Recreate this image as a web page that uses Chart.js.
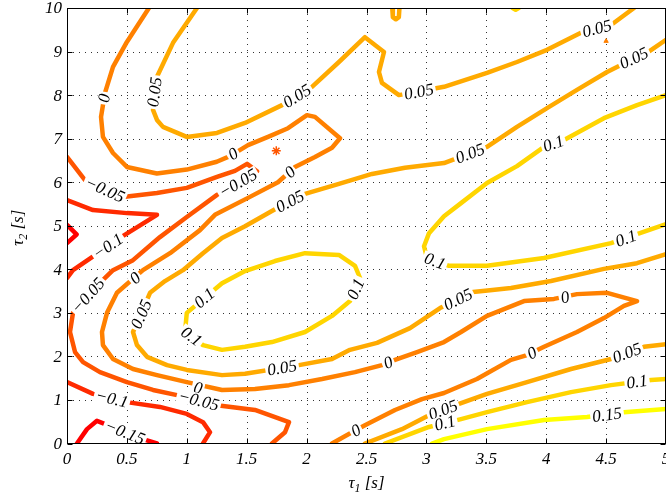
<!DOCTYPE html>
<html><head><meta charset="utf-8">
<script src="https://cdn.jsdelivr.net/npm/chart.js@4"></script>
<style>html,body{margin:0;padding:0;background:#fff;overflow:hidden}canvas{display:block}</style>
</head><body>
<canvas id="c" width="666" height="498"></canvas>
<script>
// ---------- data ----------
const xTicks = [0, 0.5, 1, 1.5, 2, 2.5, 3, 3.5, 4, 4.5, 5];
const yTicks = [0, 1, 2, 3, 4, 5, 6, 7, 8, 9, 10];
const levels = [-0.15, -0.1, -0.05, 0, 0.05, 0.1, 0.15];

// contour paths, [tau1, tau2]
const zeroMain = [[0.684,10],[0.50,9.22],[0.384,8.65],[0.317,8.05],[0.284,7.50],[0.30,7.04],[0.384,6.67],[0.50,6.35],[0.75,6.20],[1.0,6.29],[1.25,6.47],[1.36,6.60],[1.511,6.85],[1.678,7.04],[1.845,7.24],[2.003,7.54],[2.07,7.50],[2.279,7.01],[2.212,6.79],[2.07,6.58],[1.903,6.35],[1.761,6.00],[1.511,5.64],[1.235,5.25],[1.11,4.90],[0.86,4.37],[0.634,3.98],[0.417,3.46],[0.334,3.00],[0.292,2.56],[0.30,2.26],[0.384,1.94],[0.551,1.71],[0.751,1.57],[1.0,1.41],[1.294,1.23],[1.569,1.25],[1.853,1.34],[2.129,1.48],[2.404,1.64],[2.629,1.80],[2.738,1.92],[2.922,2.10],[3.147,2.33],[3.289,2.56],[3.506,2.93],[3.815,3.27],[4.065,3.32],[4.257,3.43],[4.508,3.46],[4.758,3.27],[4.649,3.16],[4.482,2.88],[4.257,2.56],[3.982,2.22],[3.84,2.03],[3.706,1.92],[3.422,1.48],[3.147,1.16],[2.963,1.02],[2.738,0.77],[2.487,0.42],[2.379,0.26],[2.212,0]];
const minus05Main = [[0,6.58],[0.15,6.05],[0.467,5.66],[0.751,5.75],[1.0,5.87],[1.252,6.12],[1.402,6.26],[1.503,6.42],[1.586,6.25],[1.53,6.16],[1.252,5.71],[1.0,5.20],[0.776,4.74],[0.551,4.21],[0.384,3.98],[0.275,3.69],[0.05,3.00],[0.025,2.56],[0.067,2.10],[0.134,1.87],[0.275,1.64],[0.50,1.41],[0.718,1.23],[0.918,1.11],[1.252,0.88],[1.569,0.77],[1.853,0.49],[1.82,0.26],[1.711,0]];
const minus10Left = [[0,5.59],[0.217,5.36],[0.50,5.29],[0.751,5.25],[0.442,4.72],[0.209,4.28],[0.05,3.98],[0,3.80]];
const minus10Low = [[0,1.41],[0.217,1.14],[0.50,0.95],[0.776,0.84],[1.0,0.68],[1.135,0.49],[1.194,0.26],[1.135,0]];
const minus15Low = [[0.083,0],[0.167,0.33],[0.25,0.52],[0.634,0.10],[0.751,0]];
const minus15Left = [[0,5.02],[0.08,4.8],[0,4.6]];
const plus05Top = [[1.085,10],[0.885,9.20],[0.751,8.42],[0.718,7.66],[0.751,7.43],[0.801,7.27],[1.0,7.04],[1.252,7.13],[1.486,7.36],[1.795,7.77],[2.045,8.19],[2.27,8.76],[2.487,9.33],[2.646,8.99],[2.604,8.53],[2.629,8.28],[2.771,8.00],[3.147,8.19],[3.506,8.51],[3.756,8.76],[4.007,9.04],[4.29,9.43],[4.541,9.61],[4.733,10]];
const plus05Mid = [[5,9.27],[4.841,8.97],[4.624,8.69],[4.508,8.53],[4.257,8.12],[4.007,7.70],[3.756,7.27],[3.506,6.81],[3.147,6.44],[2.821,6.33],[2.546,6.19],[2.27,5.96],[1.987,5.73],[1.736,5.38],[1.486,4.99],[1.294,4.72],[1.135,4.37],[0.968,3.98],[0.818,3.73],[0.693,3.46],[0.551,2.56],[0.584,2.26],[0.668,1.99],[0.835,1.80],[1.0,1.69],[1.294,1.57],[1.486,1.60],[1.937,1.80],[2.212,1.94],[2.362,2.15],[2.588,2.31],[2.863,2.65],[3.114,3.11],[3.389,3.48],[3.531,3.52],[3.706,3.57],[4.04,3.73],[4.482,4.01],[4.758,4.14],[5,4.35]];
const plus05Low = [[2.487,0],[2.796,0.33],[3.022,0.65],[3.272,0.91],[3.506,1.14],[3.84,1.41],[4.207,1.71],[4.541,1.94],[4.816,2.22],[5,2.28]];
const plus05Cap = [[2.715,10],[2.72,9.79],[2.745,9.74],[2.77,9.79],[2.775,10]];
const plus10Loop = [[1.294,3.68],[1.486,3.96],[1.736,4.19],[1.987,4.37],[2.27,4.33],[2.404,4.08],[2.446,3.80],[2.362,3.27],[2.212,2.93],[1.987,2.56],[1.711,2.33],[1.486,2.22],[1.294,2.15],[1.135,2.26],[0.985,2.56],[1.0,3.0],[1.294,3.68]];
const plus10Right = [[5,8.00],[4.758,7.77],[4.482,7.47],[4.149,6.97],[3.982,6.81],[3.756,6.37],[3.506,5.98],[3.289,5.52],[3.147,5.22],[3.022,4.83],[2.98,4.53],[3.005,4.26],[3.189,4.08],[3.506,4.08],[3.982,4.26],[4.541,4.60],[4.758,4.81],[5,5.04]];
const plus10Low = [[2.654,0],[3.022,0.38],[3.289,0.56],[3.506,0.72],[3.84,0.95],[4.207,1.18],[4.541,1.34],[4.875,1.46],[5,1.48]];
const plus10Cap = [[3.72,10],[3.745,9.96],[3.77,10]];
const plus15Low = [[3.047,0],[3.147,0.10],[3.506,0.33],[3.982,0.54],[4.341,0.61],[4.649,0.72],[5,0.79]];

// markers
const starPts = [[1.747,6.72]];
const triPts = [[4.5,9.24]];

// contour label spots: [level, tau1, tau2]
const labelSpots = [
  [0,0.309,7.93],[0,1.386,6.65],[0,1.861,6.23],[0,0.568,3.80],[0,1.094,1.28],[0,2.68,1.86],[0,4.157,3.36],[0,3.88,2.08],[0,2.412,0.30],
  [-0.05,0.317,5.83],[-0.05,1.427,5.98],[-0.05,0.175,3.40],[-0.05,1.10,0.99],
  [-0.1,0.342,4.53],[-0.1,0.376,1.03],
  [-0.15,0.484,0.26],
  [0.05,0.73,8.07],[0.05,1.92,7.98],[0.05,2.938,8.08],[0.05,4.424,9.53],[0.05,4.733,8.85],[0.05,3.364,6.66],[0.05,1.861,5.56],[0.05,0.62,2.97],[0.05,1.795,1.74],[0.05,3.264,3.31],[0.05,3.139,0.77],[0.05,4.674,2.08],
  [0.1,4.06,6.89],[0.1,3.072,4.19],[0.1,4.666,4.71],[0.1,2.41,3.55],[0.1,1.147,3.34],[0.1,1.04,2.46],[0.1,3.155,0.47],[0.1,4.758,1.42],
  [0.15,4.508,0.66]
];

const contours = [
  {level: -0.15, pts: minus15Low}, {level: -0.15, pts: minus15Left},
  {level: -0.1, pts: minus10Left}, {level: -0.1, pts: minus10Low},
  {level: -0.05, pts: minus05Main},
  {level: 0, pts: zeroMain},
  {level: 0.05, pts: plus05Top}, {level: 0.05, pts: plus05Mid}, {level: 0.05, pts: plus05Low}, {level: 0.05, pts: plus05Cap},
  {level: 0.1, pts: plus10Loop}, {level: 0.1, pts: plus10Right}, {level: 0.1, pts: plus10Low}, {level: 0.1, pts: plus10Cap},
  {level: 0.15, pts: plus15Low}
];

// ---------- styling ----------
const FONT = "'Liberation Serif', 'Times New Roman', serif";
const TICK_FONT = `italic 17px ${FONT}`;
const LABEL_FONT = `italic 17px ${FONT}`;
function levelColor(l) {
  const lo = levels[0], hi = levels[levels.length - 1];
  const g = Math.round(255 * (l - lo) / (hi - lo));
  return `rgb(255,${g},0)`;
}
function fmt(l) { return l < 0 ? '\u2212' + String(-l) : String(l); }
const toXY = arr => arr.map(([x, y]) => ({x, y}));

const datasets = contours.map(c => ({
  data: toXY(c.pts), showLine: true, borderColor: levelColor(c.level), backgroundColor: levelColor(c.level),
  borderWidth: 4.5, pointRadius: 0, pointHoverRadius: 0, tension: 0, fill: false,
  borderJoinStyle: 'round', borderCapStyle: 'round', clip: 0
}));
datasets.push({data: toXY(starPts), showLine: false, pointStyle: 'star', pointRadius: 4.5,
  borderColor: 'rgb(255,85,0)', backgroundColor: 'rgb(255,85,0)', pointBorderWidth: 1.5, clip: 0});
datasets.push({data: toXY(triPts), showLine: false, pointStyle: 'triangle', pointRadius: 2.5,
  borderColor: 'rgb(255,128,0)', backgroundColor: 'rgb(255,128,0)', pointBorderWidth: 1, clip: 0});

const decorPlugin = {
  id: 'decor',
  beforeDatasetsDraw(chart) {
    const {ctx, chartArea: a, scales: {x, y}} = chart;
    ctx.save();
    ctx.strokeStyle = '#333';
    ctx.lineWidth = 1;
    ctx.setLineDash([1, 5]);
    xTicks.forEach(v => {
      if (v === xTicks[0] || v === xTicks[xTicks.length - 1]) return;
      const px = Math.round(x.getPixelForValue(v)) + 0.5;
      ctx.beginPath(); ctx.moveTo(px, a.top); ctx.lineTo(px, a.bottom); ctx.stroke();
    });
    yTicks.forEach(v => {
      if (v === yTicks[0] || v === yTicks[yTicks.length - 1]) return;
      const py = Math.round(y.getPixelForValue(v)) + 0.5;
      ctx.beginPath(); ctx.moveTo(a.left, py); ctx.lineTo(a.right, py); ctx.stroke();
    });
    ctx.restore();
  },
  afterDatasetsDraw(chart) {
    const {ctx, chartArea: a, scales: {x, y}} = chart;
    // contour labels
    ctx.save();
    ctx.font = LABEL_FONT;
    ctx.textAlign = 'center';
    ctx.textBaseline = 'middle';
    labelSpots.forEach(([lv, lx, ly]) => {
      const px = x.getPixelForValue(lx), py = y.getPixelForValue(ly);
      let best = Infinity, ang = 0;
      contours.filter(c => c.level === lv).forEach(c => {
        for (let i = 0; i < c.pts.length - 1; i++) {
          const x1 = x.getPixelForValue(c.pts[i][0]), y1 = y.getPixelForValue(c.pts[i][1]);
          const x2 = x.getPixelForValue(c.pts[i+1][0]), y2 = y.getPixelForValue(c.pts[i+1][1]);
          const dx = x2 - x1, dy = y2 - y1, L2 = dx*dx + dy*dy || 1;
          let t = ((px - x1)*dx + (py - y1)*dy) / L2; t = Math.max(0, Math.min(1, t));
          const qx = x1 + t*dx - px, qy = y1 + t*dy - py, d = qx*qx + qy*qy;
          if (d < best) { best = d; ang = Math.atan2(dy, dx); }
        }
      });
      if (ang > Math.PI/2) ang -= Math.PI;
      if (ang < -Math.PI/2) ang += Math.PI;
      const txt = fmt(lv);
      const w = ctx.measureText(txt).width;
      ctx.save();
      ctx.translate(px, py); ctx.rotate(ang);
      ctx.fillStyle = '#fff';
      ctx.fillRect(-w/2 - 2, -7, w + 4, 14);
      ctx.fillStyle = '#000';
      ctx.fillText(txt, 0, 1);
      ctx.restore();
    });
    ctx.restore();
    // box and inward ticks
    ctx.save();
    ctx.strokeStyle = '#000';
    ctx.lineWidth = 1;
    const L = Math.round(a.left) + 0.5, R = Math.round(a.right) - 0.5, T = Math.round(a.top) + 0.5, B = Math.round(a.bottom) - 0.5;
    ctx.strokeRect(L, T, R - L, B - T);
    ctx.beginPath();
    xTicks.forEach(v => {
      const px = Math.round(x.getPixelForValue(v)) + 0.5;
      ctx.moveTo(px, B); ctx.lineTo(px, B - 5);
      ctx.moveTo(px, T); ctx.lineTo(px, T + 5);
    });
    yTicks.forEach(v => {
      const py = Math.round(y.getPixelForValue(v)) + 0.5;
      ctx.moveTo(L, py); ctx.lineTo(L + 5, py);
      ctx.moveTo(R, py); ctx.lineTo(R - 5, py);
    });
    ctx.stroke();
    ctx.restore();
    // tick labels
    ctx.save();
    ctx.font = TICK_FONT; ctx.fillStyle = '#000'; ctx.textBaseline = 'middle';
    ctx.textAlign = 'center';
    xTicks.forEach(v => ctx.fillText(String(v), x.getPixelForValue(v), a.bottom + 16));
    ctx.textAlign = 'right';
    yTicks.forEach(v => ctx.fillText(String(v), a.left - 5, y.getPixelForValue(v) + 1));
    ctx.restore();
  },
  afterDraw(chart) {
    const {ctx, chartArea: a} = chart;
    const drawTitle = (sub) => {
      const f1 = `italic 17px ${FONT}`, f2 = `italic 12px ${FONT}`;
      ctx.font = f1; const w1 = ctx.measureText('\u03c4').width; const w3 = ctx.measureText(' [s]').width;
      ctx.font = f2; const w2 = ctx.measureText(sub).width;
      const tot = w1 + w2 + w3;
      let cx = -tot / 2;
      ctx.textAlign = 'left'; ctx.textBaseline = 'alphabetic'; ctx.fillStyle = '#000';
      ctx.font = f1; ctx.fillText('\u03c4', cx, 0); cx += w1;
      ctx.font = f2; ctx.fillText(sub, cx, 4); cx += w2;
      ctx.font = f1; ctx.fillText(' [s]', cx, 0);
    };
    ctx.save();
    ctx.translate((a.left + a.right) / 2, 488);
    drawTitle('1');
    ctx.restore();
    ctx.save();
    ctx.translate(23, (a.top + a.bottom) / 2 + 2);
    ctx.rotate(-Math.PI / 2);
    drawTitle('2');
    ctx.restore();
  }
};

new Chart(document.getElementById('c'), {
  type: 'scatter',
  data: {datasets},
  options: {
    responsive: false, animation: false, devicePixelRatio: 1, events: [],
    layout: {autoPadding: false, padding: {top: 8, right: 0, left: 0, bottom: 0}},
    plugins: {legend: {display: false}, tooltip: {enabled: false}},
    scales: {
      x: {
        type: 'linear', min: xTicks[0], max: xTicks[xTicks.length - 1],
        grid: {display: false, drawTicks: false}, border: {display: false},
        afterBuildTicks: s => { s.ticks = xTicks.map(v => ({value: v})); },
        afterFit: s => { s.height = 54.5; s.paddingLeft = 0; s.paddingRight = 0; },
        ticks: {display: false}
      },
      y: {
        type: 'linear', min: yTicks[0], max: yTicks[yTicks.length - 1],
        grid: {display: false, drawTicks: false}, border: {display: false},
        afterBuildTicks: s => { s.ticks = yTicks.map(v => ({value: v})); },
        afterFit: s => { s.width = 67; s.paddingTop = 0; s.paddingBottom = 0; },
        ticks: {display: false}
      }
    }
  },
  plugins: [decorPlugin]
});
</script>
</body></html>
